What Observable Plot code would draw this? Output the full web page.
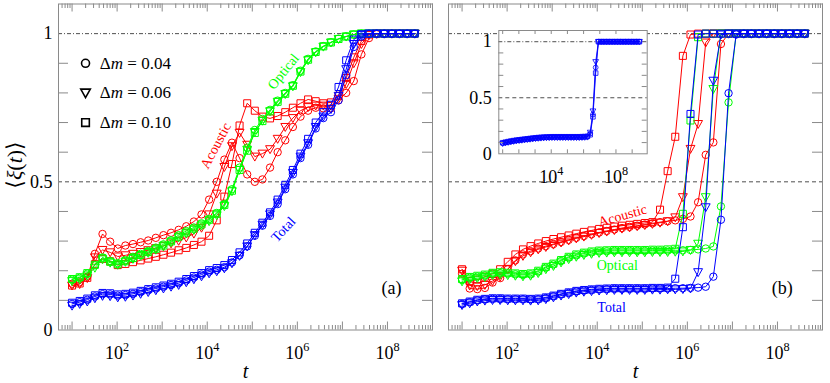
<!DOCTYPE html>
<html>
<head>
<meta charset="utf-8">
<script src="https://cdn.jsdelivr.net/npm/d3@7"></script>
<script src="https://cdn.jsdelivr.net/npm/@observablehq/plot@0.6"></script>
<style>
  html, body { margin: 0; padding: 0; background: #fff; }
  #fig { position: relative; width: 830px; height: 383px; overflow: hidden; background: #fff; }
  #fig svg { position: absolute; top: 0; }
</style>
</head>
<body>
<div id="fig"></div>
<script>
// ================= DATA =================
// time grid (log10 t) shared by all curves
const logT = [1.000,1.169,1.338,1.507,1.676,1.845,2.014,2.183,2.352,2.521,2.690,2.859,3.028,3.197,3.366,3.535,3.704,3.873,4.042,4.211,4.380,4.549,4.718,4.887,5.056,5.225,5.394,5.563,5.732,5.901,6.070,6.239,6.408,6.577,6.746,6.915,7.084,7.253,7.422,7.591,7.760,7.929,8.098,8.267,8.436,8.605,8.774,8.943,9.112,9.281,9.450];

const dmValues = ["0.04", "0.06", "0.10"];          // circle, triangle, square
const branchNames = ["Acoustic", "Optical", "Total"];
const yTickLabels = [{v: 0, s: "0"}, {v: 0.5, s: "0.5"}, {v: 1, s: "1"}];
const xTickLabels = [{v: 1e2, s: "10^2"}, {v: 1e4, s: "10^4"}, {v: 1e6, s: "10^6"}, {v: 1e8, s: "10^8"}];
const insetXTickLabels = [{v: 1e4, s: "10^4"}, {v: 1e8, s: "10^8"}];

// ---- panel (a) ----
const aAcoustic04 = [0.156,0.161,0.18,0.257,0.324,0.298,0.275,0.285,0.29,0.296,0.302,0.311,0.32,0.328,0.338,0.35,0.366,0.39,0.44,0.5,0.575,0.632,0.58,0.525,0.5,0.508,0.548,0.6,0.64,0.685,0.72,0.74,0.75,0.748,0.748,0.775,0.8,0.84,0.93,0.985,0.998,1,1,1,1,1];
const aAcoustic06 = [0.15,0.155,0.175,0.245,0.27,0.262,0.248,0.252,0.257,0.263,0.269,0.276,0.284,0.292,0.301,0.312,0.325,0.345,0.39,0.46,0.55,0.62,0.665,0.625,0.585,0.595,0.61,0.645,0.685,0.715,0.74,0.752,0.757,0.757,0.757,0.78,0.83,0.9,0.965,0.995,1,1,1,1,1,1];
const aAcoustic10 = [0.15,0.157,0.176,0.222,0.24,0.232,0.219,0.223,0.229,0.235,0.241,0.247,0.254,0.261,0.269,0.277,0.287,0.298,0.318,0.37,0.45,0.56,0.69,0.765,0.74,0.72,0.714,0.722,0.735,0.75,0.765,0.778,0.772,0.765,0.768,0.79,0.85,0.92,0.975,0.997,1,1,1,1,1,1];
const aOptical04 = [0.17,0.176,0.19,0.218,0.245,0.233,0.226,0.236,0.247,0.257,0.267,0.278,0.289,0.303,0.32,0.334,0.346,0.36,0.375,0.395,0.425,0.475,0.548,0.615,0.675,0.712,0.743,0.774,0.8,0.826,0.875,0.915,0.94,0.958,0.971,0.983,0.991,0.997,1,1,1,1,1,1,1,1];
const aOptical06 = [0.165,0.171,0.184,0.21,0.238,0.227,0.22,0.23,0.24,0.25,0.26,0.271,0.282,0.296,0.312,0.326,0.338,0.352,0.367,0.387,0.418,0.468,0.54,0.608,0.668,0.706,0.738,0.77,0.796,0.822,0.87,0.91,0.937,0.956,0.97,0.982,0.99,0.997,1,1,1,1,1,1,1,1];
const aOptical10 = [0.172,0.178,0.192,0.22,0.242,0.23,0.222,0.232,0.243,0.253,0.263,0.274,0.285,0.299,0.315,0.329,0.342,0.356,0.372,0.392,0.422,0.47,0.54,0.605,0.665,0.705,0.738,0.77,0.797,0.824,0.872,0.912,0.938,0.957,0.97,0.982,0.99,0.997,1,1,1,1,1,1,1,1];
const aTotal04 = [0.088,0.094,0.102,0.113,0.121,0.12,0.116,0.118,0.122,0.128,0.134,0.14,0.146,0.152,0.158,0.167,0.177,0.187,0.197,0.203,0.212,0.228,0.252,0.282,0.318,0.352,0.385,0.425,0.475,0.525,0.58,0.625,0.68,0.715,0.735,0.775,0.86,0.955,0.99,0.999,1,1,1,1,1,1];
const aTotal06 = [0.082,0.088,0.096,0.107,0.115,0.114,0.11,0.112,0.116,0.122,0.128,0.134,0.14,0.146,0.152,0.161,0.171,0.181,0.191,0.198,0.208,0.225,0.25,0.282,0.32,0.355,0.39,0.43,0.48,0.53,0.585,0.63,0.685,0.72,0.745,0.79,0.88,0.965,0.995,1,1,1,1,1,1,1];
const aTotal10 = [0.092,0.098,0.106,0.117,0.125,0.124,0.12,0.122,0.126,0.132,0.138,0.144,0.15,0.156,0.163,0.172,0.182,0.192,0.202,0.209,0.219,0.236,0.262,0.292,0.328,0.362,0.397,0.44,0.49,0.54,0.595,0.645,0.7,0.735,0.76,0.82,0.91,0.98,0.998,1,1,1,1,1,1,1];

// ---- panel (b) ----
const bAcoustic04 = [0.19,0.14,0.138,0.142,0.16,0.175,0.205,0.235,0.255,0.266,0.275,0.283,0.29,0.297,0.304,0.311,0.317,0.323,0.329,0.334,0.339,0.344,0.348,0.352,0.356,0.36,0.364,0.367,0.37,0.375,0.383,0.431,0.591,0.633,0.965,1,1,1,1,1,1,1,1,1,1,1];
const bAcoustic06 = [0.2,0.15,0.148,0.152,0.165,0.18,0.205,0.232,0.25,0.262,0.272,0.28,0.288,0.295,0.302,0.309,0.315,0.321,0.327,0.332,0.337,0.342,0.346,0.35,0.354,0.358,0.362,0.367,0.38,0.448,0.611,0.695,0.97,1,1,1,1,1,1,1,1,1,1,1,1,1];
const bAcoustic10 = [0.205,0.165,0.17,0.18,0.19,0.205,0.23,0.255,0.272,0.283,0.292,0.3,0.307,0.313,0.319,0.325,0.331,0.336,0.341,0.345,0.349,0.352,0.355,0.358,0.361,0.364,0.406,0.536,0.652,0.925,0.997,1,1,1,1,1,1,1,1,1,1,1,1,1,1,1];
const bOptical04 = [0.169,0.176,0.18,0.184,0.19,0.192,0.19,0.188,0.186,0.188,0.197,0.21,0.221,0.233,0.244,0.252,0.258,0.262,0.265,0.266,0.267,0.267,0.267,0.267,0.267,0.268,0.268,0.268,0.269,0.269,0.27,0.272,0.275,0.282,0.417,0.768,1,1,1,1,1,1,1,1,1,1];
const bOptical06 = [0.164,0.171,0.175,0.179,0.185,0.187,0.185,0.183,0.181,0.183,0.192,0.205,0.216,0.228,0.239,0.247,0.253,0.257,0.26,0.261,0.262,0.262,0.262,0.262,0.262,0.263,0.263,0.263,0.264,0.265,0.27,0.291,0.448,0.813,1,1,1,1,1,1,1,1,1,1,1,1];
const bOptical10 = [0.172,0.179,0.183,0.187,0.193,0.195,0.193,0.191,0.189,0.191,0.2,0.213,0.224,0.236,0.247,0.255,0.261,0.265,0.268,0.269,0.27,0.27,0.27,0.27,0.27,0.271,0.271,0.272,0.274,0.392,0.707,0.988,1,1,1,1,1,1,1,1,1,1,1,1,1,1];
const bTotal04 = [0.088,0.094,0.1,0.103,0.105,0.105,0.104,0.104,0.104,0.103,0.104,0.108,0.114,0.12,0.125,0.13,0.133,0.135,0.137,0.138,0.139,0.139,0.139,0.139,0.139,0.14,0.14,0.14,0.141,0.141,0.142,0.143,0.146,0.18,0.372,0.799,0.997,1,1,1,1,1,1,1,1,1];
const bTotal06 = [0.084,0.09,0.096,0.099,0.101,0.101,0.1,0.1,0.1,0.099,0.1,0.104,0.11,0.116,0.121,0.126,0.129,0.131,0.133,0.134,0.135,0.135,0.135,0.135,0.135,0.136,0.136,0.137,0.137,0.138,0.14,0.195,0.414,0.841,0.997,1,1,1,1,1,1,1,1,1,1,1];
const bTotal10 = [0.09,0.096,0.102,0.105,0.107,0.107,0.106,0.106,0.106,0.105,0.106,0.11,0.116,0.122,0.127,0.132,0.135,0.137,0.139,0.14,0.141,0.141,0.141,0.141,0.141,0.142,0.142,0.143,0.173,0.347,0.729,0.997,1,1,1,1,1,1,1,1,1,1,1,1,1,1];

// ---- inset of (b): total ----
const insetTotal04 = [0.095,0.1,0.105,0.11,0.114,0.118,0.121,0.124,0.127,0.13,0.133,0.136,0.139,0.141,0.143,0.145,0.146,0.147,0.148,0.148,0.148,0.148,0.148,0.148,0.148,0.148,0.148,0.148,0.148,0.149,0.15,0.152,0.18,0.35,0.77,1,1,1,1,1,1,1,1,1,1,1,1,1,1,1,1];
const insetTotal06 = [0.091,0.096,0.101,0.106,0.11,0.114,0.117,0.12,0.123,0.126,0.129,0.132,0.135,0.137,0.139,0.141,0.142,0.143,0.144,0.144,0.144,0.144,0.144,0.144,0.144,0.144,0.144,0.144,0.144,0.145,0.146,0.148,0.19,0.38,0.82,1,1,1,1,1,1,1,1,1,1,1,1,1,1,1,1];
const insetTotal10 = [0.099,0.104,0.109,0.114,0.118,0.122,0.125,0.128,0.131,0.134,0.137,0.14,0.143,0.145,0.147,0.149,0.15,0.151,0.152,0.152,0.152,0.152,0.152,0.152,0.152,0.152,0.152,0.152,0.152,0.153,0.154,0.156,0.17,0.33,0.72,1,1,1,1,1,1,1,1,1,1,1,1,1,1,1,1];

// ================= STYLE =================
const FONT = '"Liberation Serif", "DejaVu Serif", "Times New Roman", serif';
const GRAY = "#8a8a8a";
const RED = "#ff0000", GREEN = "#00ff00", BLUE = "#0000ff";
const t = logT.map(v => 10 ** v);

const symCircle = {draw(ctx, size) { const r = Math.sqrt(size / Math.PI); ctx.moveTo(r, 0); ctx.arc(0, 0, r, 0, 2 * Math.PI); ctx.closePath(); }};
const symTri = {draw(ctx, size) { const r = Math.sqrt(size / Math.PI); const w = r * 1.2, h1 = r * 0.95, h2 = r * 1.2; ctx.moveTo(-w, -h1); ctx.lineTo(w, -h1); ctx.lineTo(0, h2); ctx.closePath(); }};
const symSq = {draw(ctx, size) { const r = Math.sqrt(size / Math.PI); const s = r * 0.95; ctx.rect(-s, -s, 2 * s, 2 * s); }};
const SYMS = [symCircle, symTri, symSq];

function seriesMarks(list, r, sw) {
  const marks = [];
  for (const s of list) {
    const data = s.vals.map((y, i) => ({t: t[i], y}));
    marks.push(Plot.line(data, {x: "t", y: "y", stroke: s.color, strokeWidth: sw}));
    marks.push(Plot.dot(data, {x: "t", y: "y", stroke: s.color, fill: "none", r, strokeWidth: sw, symbol: SYMS[s.dm]}));
  }
  return marks;
}

const decades = d3.range(1, 10).map(e => 10 ** e);
const minors = [];
for (let e = 0; e <= 8; e++) for (let m = 2; m <= 9; m++) { const v = m * 10 ** e; if (v > 5 && v < 1e9) minors.push(v); }
const yMinor = [0.1, 0.2, 0.3, 0.4, 0.6, 0.7, 0.8, 0.9];

function frameTicks(W, H, leftTicks) {
  const m = [
    Plot.ruleX(decades, {x: d => d, insetTop: H - 8, stroke: GRAY}),
    Plot.ruleX(decades, {x: d => d, insetBottom: H - 8, stroke: GRAY}),
    Plot.ruleX(minors, {x: d => d, insetTop: H - 4.5, stroke: GRAY}),
    Plot.ruleX(minors, {x: d => d, insetBottom: H - 4.5, stroke: GRAY}),
    Plot.ruleY(yMinor, {y: d => d, insetLeft: W - 10, stroke: GRAY})
  ];
  if (leftTicks) m.push(Plot.ruleY(yMinor, {y: d => d, insetRight: W - 10, stroke: GRAY}));
  m.push(Plot.frame({stroke: GRAY, strokeWidth: 1}));
  return m;
}

function refLines() {
  return [
    Plot.ruleY([1], {y: d => d, stroke: "#222", strokeWidth: 0.8, strokeDasharray: "4,2,1,2"}),
    Plot.ruleY([0.5], {y: d => d, stroke: "#222", strokeWidth: 0.8, strokeDasharray: "4,3"})
  ];
}

function label(text, x, y, color, rotate) {
  return Plot.text([text], {x: () => x, y: () => y, text: d => d, fill: color, fontSize: 14, rotate, textAnchor: "middle", lineAnchor: "middle"});
}

function fmt(svg) {
  svg.querySelectorAll("text").forEach(el => {
    const s = el.textContent;
    if (!/[\^_]/.test(s)) return;
    let h = s.replace(/_([^_]+)_/g, '<tspan font-style="italic">$1</tspan>');
    h = h.replace(/\^(\d+)/g, '<tspan dy="-0.6em" font-size="0.68em">$1</tspan>');
    el.innerHTML = h;
  });
  return svg;
}

const fig = document.getElementById("fig");
const MID = {textAnchor: "middle", lineAnchor: "middle"};

// ================= PANEL (a) =================
{
  const W = 374, H = 326;
  const series = [
    {vals: aAcoustic04, color: RED, dm: 0}, {vals: aAcoustic06, color: RED, dm: 1}, {vals: aAcoustic10, color: RED, dm: 2},
    {vals: aOptical04, color: GREEN, dm: 0}, {vals: aOptical06, color: GREEN, dm: 1}, {vals: aOptical10, color: GREEN, dm: 2},
    {vals: aTotal04, color: BLUE, dm: 0}, {vals: aTotal06, color: BLUE, dm: 1}, {vals: aTotal10, color: BLUE, dm: 2}
  ];
  const legend = dmValues.map((v, i) => ({y: 0.9 - 0.1 * i, s: "Δ_m_ = " + v, dm: i}));
  const svg = Plot.plot({
    width: 440, height: 383,
    marginLeft: 58, marginRight: 8, marginTop: 3.5, marginBottom: 53.5,
    x: {type: "log", domain: [5, 1e9], axis: null},
    y: {domain: [0, 1.1], axis: null},
    style: {fontFamily: FONT, background: "transparent", overflow: "visible", color: "#000"},
    marks: [
      ...refLines(),
      ...seriesMarks(series, 3.7, 1),
      ...frameTicks(W, H, true),
      Plot.text(yTickLabels, {y: "v", text: "s", frameAnchor: "left", textAnchor: "end", lineAnchor: "middle", dx: -6, fontSize: 18}),
      Plot.text(xTickLabels, {x: "v", text: "s", frameAnchor: "bottom", ...MID, dy: 23, fontSize: 18}),
      Plot.text(["_t_"], {text: d => d, frameAnchor: "bottom", ...MID, dy: 42, fontSize: 20}),
      Plot.text(["⟨_ξ_(_t_)⟩"], {text: d => d, frameAnchor: "left", ...MID, dx: -44, dy: -2, rotate: -90, fontSize: 22}),
      Plot.text(["(a)"], {text: d => d, frameAnchor: "bottom-right", ...MID, dx: -41, dy: -41.5, fontSize: 18}),
      label(branchNames[0], 10 ** 4.19, 0.622, RED, -62),
      label(branchNames[1], 10 ** 5.69, 0.872, GREEN, -51),
      label(branchNames[2], 10 ** 5.69, 0.339, BLUE, -47),
      ...legend.map(d => Plot.dot([d], {x: () => 10 ** 1.299, y: "y", r: 4, stroke: "#000", strokeWidth: 1.6, fill: "none", symbol: SYMS[d.dm]})),
      Plot.text(legend, {x: () => 10 ** 1.617, y: "y", text: "s", textAnchor: "start", lineAnchor: "middle", fontSize: 17})
    ]
  });
  svg.style.left = "0px";
  fig.appendChild(fmt(svg));
}

// ================= PANEL (b) =================
{
  const W = 374, H = 326;
  const series = [
    {vals: bAcoustic04, color: RED, dm: 0}, {vals: bAcoustic06, color: RED, dm: 1}, {vals: bAcoustic10, color: RED, dm: 2},
    {vals: bOptical04, color: GREEN, dm: 0}, {vals: bOptical06, color: GREEN, dm: 1}, {vals: bOptical10, color: GREEN, dm: 2},
    {vals: bTotal04, color: BLUE, dm: 0}, {vals: bTotal06, color: BLUE, dm: 1}, {vals: bTotal10, color: BLUE, dm: 2}
  ];
  const svg = Plot.plot({
    width: 390, height: 383,
    marginLeft: 8, marginRight: 8, marginTop: 3.5, marginBottom: 53.5,
    x: {type: "log", domain: [5, 1e9], axis: null},
    y: {domain: [0, 1.1], axis: null},
    style: {fontFamily: FONT, background: "transparent", overflow: "visible", color: "#000"},
    marks: [
      ...refLines(),
      ...seriesMarks(series, 3.7, 1),
      ...frameTicks(W, H, false),
      Plot.text(xTickLabels, {x: "v", text: "s", frameAnchor: "bottom", ...MID, dy: 23, fontSize: 18}),
      Plot.text(["_t_"], {text: d => d, frameAnchor: "bottom", ...MID, dy: 42, fontSize: 20}),
      Plot.text(["(b)"], {text: d => d, frameAnchor: "bottom-right", ...MID, dx: -40.3, dy: -42, fontSize: 18}),
      label(branchNames[0], 10 ** 4.56, 0.386, RED, -16),
      label(branchNames[1], 10 ** 4.447, 0.2175, GREEN, 0),
      label(branchNames[2], 10 ** 4.32, 0.077, BLUE, 0)
    ]
  });
  svg.style.left = "440px";
  fig.appendChild(fmt(svg));
}

// ================= INSET =================
{
  const W = 148.4, H = 123.3;
  const series = [
    {vals: insetTotal04, color: BLUE, dm: 0}, {vals: insetTotal06, color: BLUE, dm: 1}, {vals: insetTotal10, color: BLUE, dm: 2}
  ];
  const svg = Plot.plot({
    width: 205, height: 190,
    marginLeft: 43.3, marginRight: 13.3, marginTop: 30, marginBottom: 36.7,
    x: {type: "log", domain: [10 ** 0.76, 10 ** 9.93], axis: null},
    y: {domain: [0, 1.1], axis: null},
    style: {fontFamily: FONT, background: "transparent", overflow: "visible", color: "#000"},
    marks: [
      Plot.frame({fill: "#fff", stroke: "none"}),
      ...refLines(),
      ...seriesMarks(series, 2.4, 0.8),
      Plot.ruleX(decades, {x: d => d, insetTop: H - 4, stroke: GRAY}),
      Plot.ruleX(decades, {x: d => d, insetBottom: H - 4, stroke: GRAY}),
      Plot.ruleY(yMinor, {y: d => d, insetRight: W - 5, stroke: GRAY}),
      Plot.ruleY(yMinor, {y: d => d, insetLeft: W - 5, stroke: GRAY}),
      Plot.frame({stroke: GRAY, strokeWidth: 1}),
      Plot.text(yTickLabels, {y: "v", text: "s", frameAnchor: "left", textAnchor: "end", lineAnchor: "middle", dx: -7, fontSize: 18}),
      Plot.text(insetXTickLabels, {x: "v", text: "s", frameAnchor: "bottom", ...MID, dy: 23, fontSize: 18})
    ]
  });
  svg.style.left = "455px";
  fig.appendChild(fmt(svg));
}
</script>
</body>
</html>
